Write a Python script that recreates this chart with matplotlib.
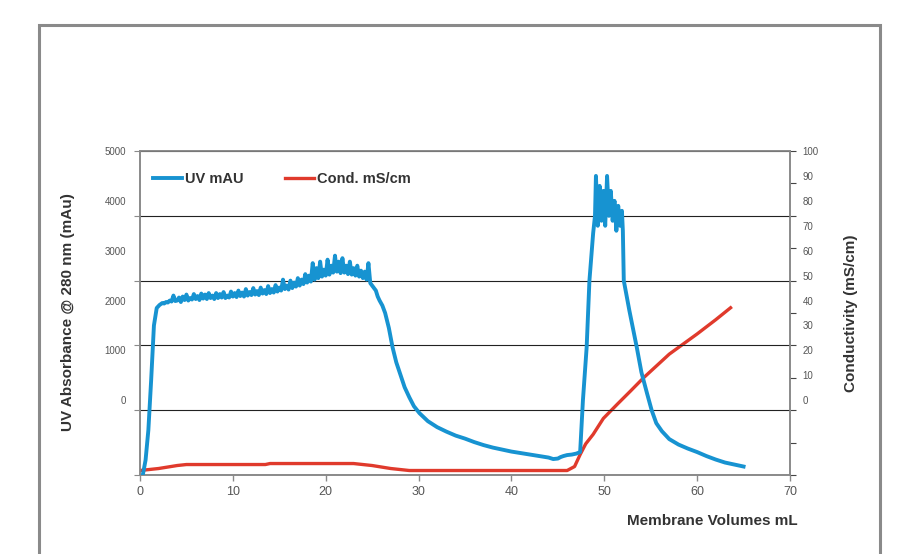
import numpy as np
import matplotlib.pyplot as plt
import matplotlib.patches as mpatches
from matplotlib.ticker import MultipleLocator, FixedLocator, NullFormatter

plt.rcParams['font.family'] = ['Liberation Sans', 'DejaVu Sans']

# UV absorbance trace (mAU) vs membrane volumes
uv_x = [0.3, 0.6, 0.9, 1.2, 1.5, 1.8, 2.1,
        2.4, 2.6, 2.8, 3.0, 3.2, 3.4, 3.6, 3.8, 4.0, 4.2, 4.4, 4.6, 4.8, 5.0,
        5.2, 5.4, 5.6, 5.8, 6.0, 6.2, 6.4, 6.6, 6.8, 7.0, 7.2, 7.4, 7.6, 7.8,
        8.0, 8.2, 8.4, 8.6, 8.8, 9.0, 9.2, 9.4, 9.6, 9.8, 10.0, 10.2, 10.4,
        10.6, 10.8, 11.0, 11.2, 11.4, 11.6, 11.8, 12.0, 12.2, 12.4, 12.6, 12.8,
        13.0, 13.2, 13.4, 13.6, 13.8, 14.0, 14.2, 14.4, 14.6, 14.8, 15.0, 15.2,
        15.4, 15.6, 15.8, 16.0, 16.2, 16.4, 16.6, 16.8, 17.0, 17.2, 17.4, 17.6,
        17.8, 18.0, 18.2, 18.4, 18.6, 18.8, 19.0, 19.2, 19.4, 19.6, 19.8, 20.0,
        20.2, 20.4, 20.6, 20.8, 21.0, 21.2, 21.4, 21.6, 21.8, 22.0, 22.2, 22.4,
        22.6, 22.8, 23.0, 23.2, 23.4, 23.6, 23.8, 24.0, 24.2, 24.4, 24.6, 24.8,
        25.0, 25.2, 25.4, 25.6, 25.8, 26.1, 26.4, 26.8, 27.2, 27.6, 28.0, 28.5,
        29.0, 29.5, 30.1, 31, 32, 33, 34, 35, 36, 37, 38, 39, 40, 41, 42, 43, 44,
        44.5, 45, 45.3, 45.6, 46, 46.5, 47, 47.4, 47.7, 48.1, 48.4, 48.8, 49.0,
        49.1, 49.3, 49.5, 49.7, 49.9, 50.1, 50.3, 50.5, 50.7, 50.9, 51.1, 51.3,
        51.5, 51.7, 51.9, 52.0, 52.1, 52.7, 53.5, 54.0, 54.6, 55.1, 55.6, 56.2,
        57, 58, 59, 60, 61, 62, 63, 64, 65]
uv_y = [-1500, -1200, -600, 400, 1500, 1850, 1910,
        1950, 1940, 1970, 1960, 2000, 1980, 2100, 1990, 2000, 2060, 1970, 2080,
        2010, 2120, 2000, 2050, 2020, 2130, 2030, 2090, 2010, 2140, 2040, 2120,
        2030, 2150, 2050, 2100, 2030, 2150, 2050, 2130, 2060, 2170, 2050, 2100,
        2060, 2180, 2080, 2150, 2070, 2200, 2090, 2160, 2080, 2230, 2100, 2170,
        2110, 2250, 2120, 2190, 2110, 2260, 2140, 2210, 2130, 2290, 2150, 2230,
        2160, 2310, 2180, 2260, 2200, 2420, 2230, 2300, 2220, 2400, 2250, 2360,
        2280, 2450, 2300, 2420, 2330, 2530, 2360, 2500, 2380, 2750, 2420, 2650,
        2450, 2780, 2480, 2620, 2500, 2820, 2520, 2700, 2560, 2900, 2580, 2780,
        2550, 2850, 2560, 2700, 2530, 2780, 2520, 2650, 2500, 2700, 2480, 2600,
        2450, 2580, 2420, 2750, 2350, 2300, 2250, 2200, 2080, 2000, 1900, 1750,
        1450, 1060, 760, 540, 260, 60, -120, -260, -420, -540, -630, -710, -770,
        -840, -900, -950, -990, -1030, -1060, -1090, -1120, -1150, -1180, -1170,
        -1140, -1120, -1100, -1090, -1070, -1040, 0, 1060, 2400, 3350, 3700,
        4500, 3500, 4300, 3600, 4200, 3500, 4500, 3700, 4200, 3600, 4000, 3400,
        3900, 3500, 3800, 3400, 2400, 1800, 1060, 560, 140, -200, -460, -620,
        -780, -890, -970, -1040, -1120, -1190, -1250, -1290, -1330]

# conductivity trace (mS/cm)
cond_x = [0, 2, 4, 5, 13.5, 14, 23, 25, 27, 29, 46, 46.8, 47.4, 48.0, 48.8,
          49.9, 51.4, 52.8, 54.2, 57, 60, 62, 63.6]
cond_y = [-28.2, -27.4, -26.2, -25.8, -25.8, -25.4, -25.4, -26.2, -27.4,
          -28.2, -28.2, -26.6, -21.8, -17.5, -13.7, -7.3, -1.6, 3.6, 8.9, 18.5,
          26.6, 32.3, 37.1]

uv_labels = [0, 1000, 2000, 3000, 4000, 5000]
cond_labels = [0, 10, 20, 30, 40, 50, 60, 70, 80, 90, 100]

blue = '#1793d1'
red = '#e03a2c'
grey = '#555555'
spine = '#8a8a8a'

fig = plt.figure(figsize=(8.99, 5.54), dpi=100)
ax = fig.add_axes([140/899, 1-475/554, 650/899, 324/554])
ax2 = ax.twinx()

fig.patches.append(mpatches.Rectangle((39/899, -0.2), 841/899, 0.2+1-25/554,
                                      transform=fig.transFigure, fill=False,
                                      edgecolor=spine, lw=2.2))

l1, = ax.plot(uv_x, uv_y, color=blue, lw=2.8, solid_joinstyle='round', zorder=3)
l2, = ax2.plot(cond_x, cond_y, color=red, lw=2.4, zorder=3)

ax.set_xlim(0, 70)
ax.set_ylim(-1500, 5000)
ax2.set_ylim(-30, 100)
ax.xaxis.set_major_locator(MultipleLocator(10))
ax.tick_params(axis='x', labelsize=9, colors=grey, direction='out',
               length=4, width=1, color=spine, pad=4)

# gridlines split the range into equal parts, labels sit at the round values
ax.yaxis.remove_overlapping_locs = False
ax.yaxis.set_major_locator(FixedLocator([-1500 + 1300*k for k in range(6)]))
ax.yaxis.set_major_formatter(NullFormatter())
ax.yaxis.set_minor_locator(FixedLocator(uv_labels))
ax.set_yticklabels([str(v) for v in uv_labels], minor=True)
ax.tick_params(axis='y', which='major', direction='out', length=4, color=spine)
ax.tick_params(axis='y', which='minor', length=0, labelsize=7, colors=grey, pad=10)
ax.grid(axis='y', which='major', color='#222222', lw=0.8)

ax2.yaxis.remove_overlapping_locs = False
ax2.yaxis.set_major_locator(FixedLocator([-30 + 13*k for k in range(11)]))
ax2.yaxis.set_major_formatter(NullFormatter())
ax2.yaxis.set_minor_locator(FixedLocator(cond_labels))
ax2.set_yticklabels([str(v) for v in cond_labels], minor=True)
ax2.tick_params(axis='y', which='major', direction='out', length=4, color='#444444')
ax2.tick_params(axis='y', which='minor', length=0, labelsize=7, colors=grey, pad=9)

for a in (ax, ax2):
    for s in a.spines.values():
        s.set_color(spine)
        s.set_linewidth(1.2)

ax.set_zorder(ax2.get_zorder() + 1)
ax.patch.set_visible(False)

fig.text(68/899, 1-312/554, 'UV Absorbance @ 280 nm (mAu)', rotation=90,
         ha='center', va='center', fontsize=11, fontweight='bold', color='#333333')
fig.text(851/899, 1-313/554, 'Conductivity (mS/cm)', rotation=90,
         ha='center', va='center', fontsize=11, fontweight='bold', color='#333333')
fig.text(798/899, 1-521/554, 'Membrane Volumes mL', ha='right', va='center',
         fontsize=11, fontweight='bold', color='#333333')

leg = ax.legend([l1, l2], ['UV mAU', 'Cond. mS/cm'], loc='upper left', ncol=2,
                frameon=False, bbox_to_anchor=(0.0, 0.975), handlelength=2.0,
                handletextpad=0.2, columnspacing=2.8,
                prop={'weight': 'bold', 'size': 10.5})
for t in leg.get_texts():
    t.set_color('#333333')

plt.savefig('out.png', dpi=100)
